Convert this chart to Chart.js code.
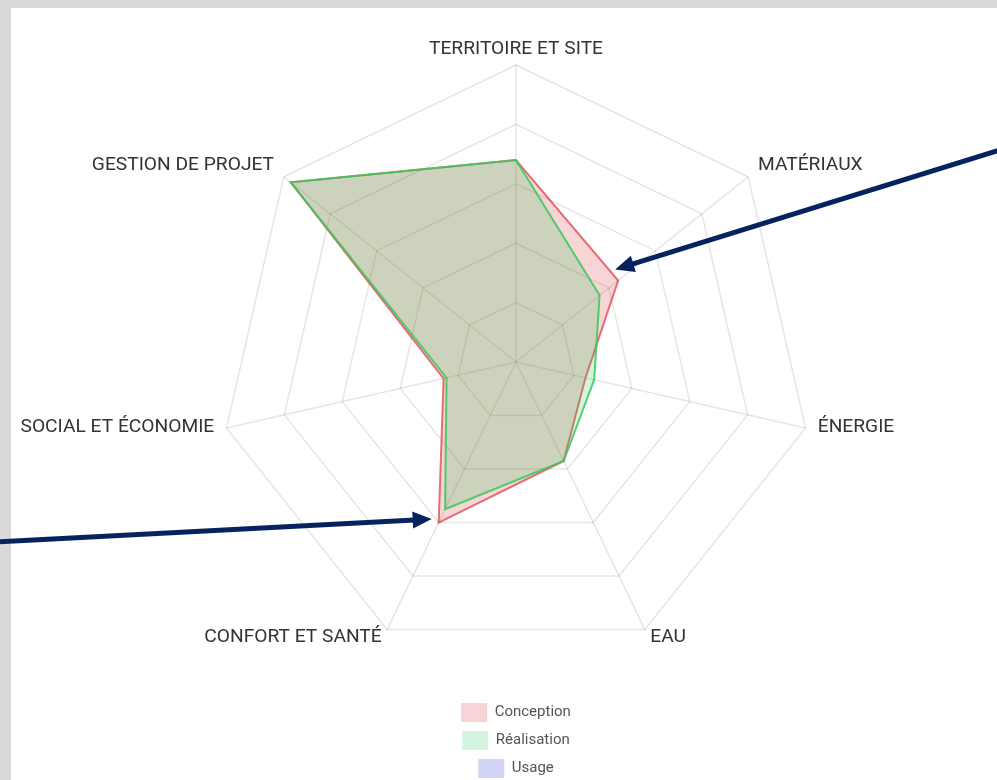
<!DOCTYPE html>
<html>
<head>
<meta charset="utf-8">
<script src="https://cdn.jsdelivr.net/npm/chart.js@4.4.1/dist/chart.umd.min.js"></script>
<style>
  html, body { margin: 0; padding: 0; overflow: hidden; background: #d9d9d9; }
  #wrap { position: absolute; left: 0; top: 0; width: 997px; height: 788px; }
  canvas { display: block; }
</style>
</head>
<body>
<div id="wrap"><canvas id="c" width="997" height="788"></canvas></div>
<script>
// ---- data ----
const categories = ['TERRITOIRE ET SITE', 'MATÉRIAUX', 'ÉNERGIE', 'EAU', 'CONFORT ET SANTÉ', 'SOCIAL ET ÉCONOMIE', 'GESTION DE PROJET'];
const seriesNames = ['Conception', 'Réalisation', 'Usage'];
const conception = [68, 44, 24, 37, 60, 25, 97];
const realisation = [68, 36, 27, 37, 55, 24, 97];
const usage = [];
const scaleMax = 100;
const scaleStep = 20;

// ---- styles ----
const LABEL_GAP = 12.5;
const LABEL_DY = -3.5;
const LEGEND_W = 140;
const ARROW_COLOR = '#07235f';

Chart.defaults.font.family = 'Roboto';

const framePlugin = {
  id: 'frame',
  beforeDraw(chart) {
    const ctx = chart.ctx;
    ctx.save();
    ctx.fillStyle = '#d9d9d9';
    ctx.fillRect(0, 0, chart.width, chart.height);
    ctx.fillStyle = '#ffffff';
    ctx.fillRect(11, 8, chart.width - 11, chart.height - 8);
    ctx.restore();
  }
};

const narrowLegend = {
  id: 'narrowLegend',
  afterInit(chart) {
    const lg = chart.legend;
    const orig = lg.update;
    lg.update = function (w, h, m) { return orig.call(this, LEGEND_W, h, m); };
  },
  afterLayout(chart) {
    const lg = chart.legend;
    const cx = (lg.left + lg.right) / 2;
    lg.left = cx - LEGEND_W / 2;
    lg.right = cx + LEGEND_W / 2;
    lg.width = LEGEND_W;
  }
};

const outerLabels = {
  id: 'outerLabels',
  afterDatasetsDraw(chart) {
    const s = chart.scales.r;
    const ctx = chart.ctx;
    ctx.save();
    ctx.font = '19.2px Roboto';
    ctx.fillStyle = '#333333';
    ctx.textBaseline = 'middle';
    chart.data.labels.forEach((lab, i) => {
      const p = s.getPointPosition(i, s.drawingArea + LABEL_GAP);
      const dx = p.x - s.xCenter;
      ctx.textAlign = Math.abs(dx) < 1 ? 'center' : (dx > 0 ? 'left' : 'right');
      ctx.fillText(lab, p.x, p.y + LABEL_DY);
    });
    ctx.restore();
  }
};

// annotation arrows pointing at Conception points
const arrowNotes = [
  { dataset: 0, index: 1, tipDx: -3, tipDy: -11, tailX: 1000, tailY: 150 },
  { dataset: 0, index: 4, tipDx: -7, tipDy: -3.5, tailX: -5, tailY: 542 }
];

const arrowsPlugin = {
  id: 'arrows',
  afterDraw(chart) {
    const ctx = chart.ctx;
    ctx.save();
    ctx.strokeStyle = ARROW_COLOR;
    ctx.fillStyle = ARROW_COLOR;
    ctx.lineWidth = 5;
    arrowNotes.forEach(a => {
      const el = chart.getDatasetMeta(a.dataset).data[a.index];
      const tx = el.x + a.tipDx, ty = el.y + a.tipDy;
      const ang = Math.atan2(ty - a.tailY, tx - a.tailX);
      const len = 19, hw = 8.5;
      const bx = tx - len * Math.cos(ang), by = ty - len * Math.sin(ang);
      ctx.beginPath();
      ctx.moveTo(a.tailX, a.tailY);
      ctx.lineTo(bx + 2 * Math.cos(ang), by + 2 * Math.sin(ang));
      ctx.stroke();
      ctx.beginPath();
      ctx.moveTo(tx, ty);
      ctx.lineTo(bx - hw * Math.sin(ang), by + hw * Math.cos(ang));
      ctx.lineTo(bx + hw * Math.sin(ang), by - hw * Math.cos(ang));
      ctx.closePath();
      ctx.fill();
    });
    ctx.restore();
  }
};

const gridColor = 'rgba(0,0,0,0.1)';

new Chart(document.getElementById('c'), {
  type: 'radar',
  data: {
    labels: categories,
    datasets: [
      { label: seriesNames[0], data: conception, backgroundColor: 'rgba(215,40,50,0.2)', borderColor: 'rgba(220,55,65,0.7)', borderWidth: 2, pointRadius: 0, order: 3 },
      { label: seriesNames[1], data: realisation, backgroundColor: 'rgba(40,205,85,0.2)', borderColor: 'rgba(55,200,90,0.85)', borderWidth: 2, pointRadius: 0, order: 2 },
      { label: seriesNames[2], data: usage, backgroundColor: 'rgba(30,40,205,0.2)', borderColor: 'rgba(60,70,210,0.7)', borderWidth: 2, pointRadius: 0, order: 1 }
    ]
  },
  options: {
    responsive: false,
    animation: false,
    layout: { padding: { left: 35, right: 0, top: 65, bottom: 0 } },
    scales: {
      r: {
        min: 0,
        max: scaleMax,
        ticks: { display: false, stepSize: scaleStep },
        pointLabels: { display: false },
        grid: { color: gridColor, lineWidth: 1.5 },
        angleLines: { color: gridColor, lineWidth: 1.5 }
      }
    },
    plugins: {
      tooltip: { enabled: false },
      legend: {
        position: 'bottom',
        title: { display: true, text: '', font: { size: 10 }, padding: { top: 23, bottom: 0 } },
        labels: {
          boxWidth: 26,
          boxHeight: 19,
          padding: 9,
          color: '#555555',
          font: { family: 'Roboto', size: 15 },
          sort: (a, b) => a.datasetIndex - b.datasetIndex,
          generateLabels(chart) {
            const items = Chart.defaults.plugins.legend.labels.generateLabels(chart);
            items.forEach(it => { it.lineWidth = 0; it.strokeStyle = 'rgba(0,0,0,0)'; });
            return items;
          }
        }
      }
    }
  },
  plugins: [framePlugin, narrowLegend, outerLabels, arrowsPlugin]
});
</script>
</body>
</html>
